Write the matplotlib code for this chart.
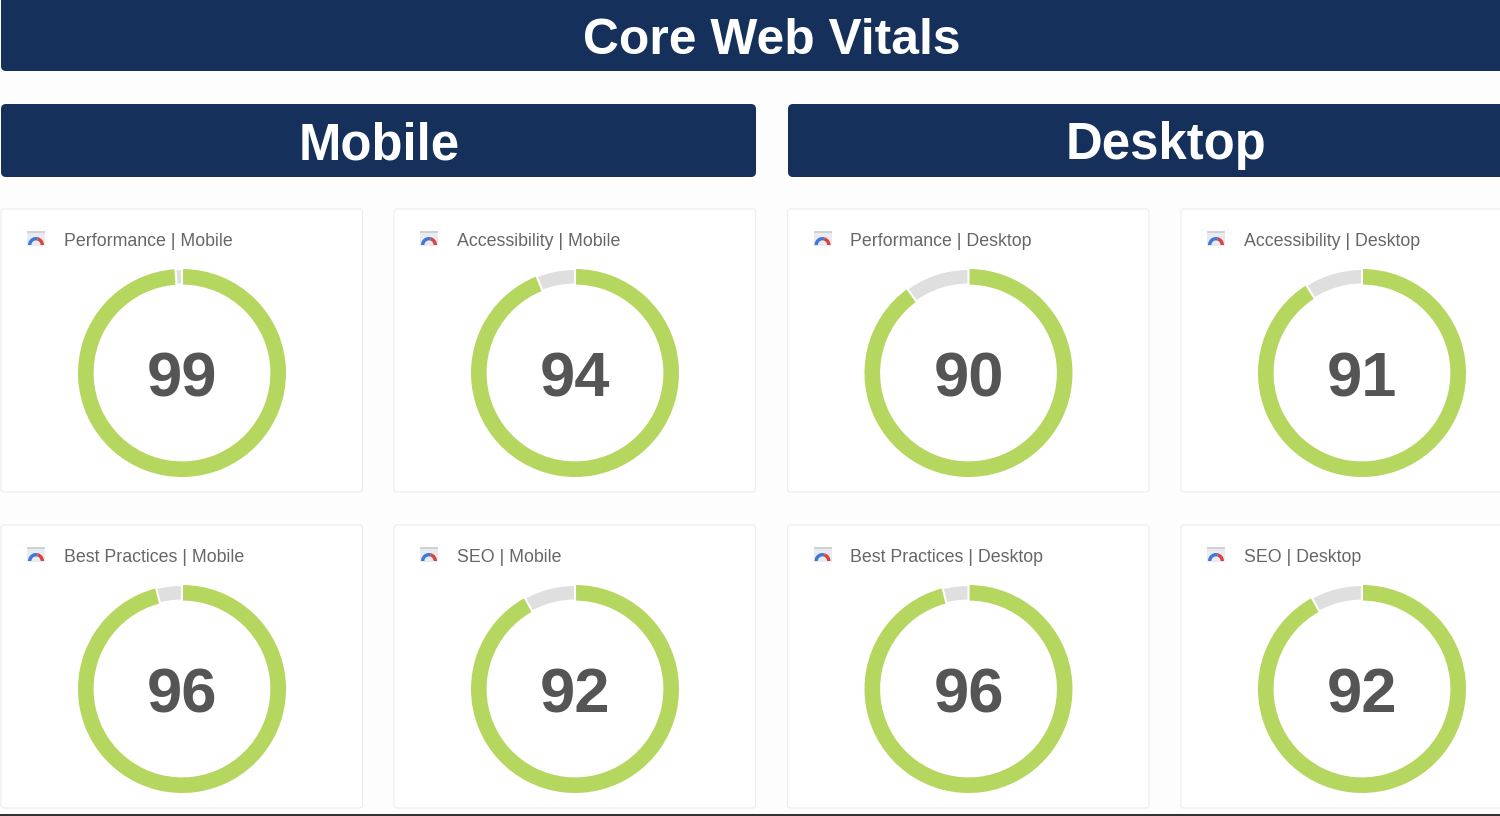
"""Core Web Vitals dashboard: eight Lighthouse score gauges."""

from __future__ import annotations

import matplotlib

matplotlib.use("Agg")
import matplotlib.pyplot as plt
from matplotlib.patches import FancyBboxPatch, Rectangle, Wedge

plt.rcParams["font.family"] = ["Liberation Sans", "DejaVu Sans"]

TITLE = "Core Web Vitals"
SECTIONS = ["Mobile", "Desktop"]
CARD_LABELS = [
    "Performance | Mobile",
    "Accessibility | Mobile",
    "Performance | Desktop",
    "Accessibility | Desktop",
    "Best Practices | Mobile",
    "SEO | Mobile",
    "Best Practices | Desktop",
    "SEO | Desktop",
]
SCORES = [99, 94, 90, 91, 96, 92, 96, 92]

WIDTH, HEIGHT = 1500, 816
NAVY = "#15305a"
GREEN = "#b5d65f"
GRAY = "#dfdfdf"
CARD_LEFT = [1, 394, 787.5, 1181]
CARD_TOP = [209, 525]
CARD_W, CARD_H = 362, 283


def banner(ax, x0, x1, y0, y1):
    ax.add_patch(
        FancyBboxPatch(
            (x0 + 5, y0 + 5),
            x1 - x0 - 10,
            y1 - y0 - 10,
            boxstyle="round,pad=5,rounding_size=5",
            fc=NAVY,
            ec="none",
        )
    )


def icon(ax, x, y):
    ax.add_patch(Rectangle((x, y), 18, 15, fc="#e9ebf1", ec="none"))
    ax.add_patch(Rectangle((x, y), 18, 2, fc="#cfd1d6", ec="none"))
    cx, cy = x + 9, y + 14
    ax.add_patch(Wedge((cx, cy), 8, 180, 285, width=3.4, fc="#3f78d8", ec="none"))
    ax.add_patch(Wedge((cx, cy), 8, 285, 360, width=3.4, fc="#d8453c", ec="none"))


def gauge(fig, cx, cy, score):
    radius = 104
    gauge_ax = fig.add_axes(
        [(cx - radius) / WIDTH, 1 - (cy + radius) / HEIGHT, 2 * radius / WIDTH, 2 * radius / HEIGHT]
    )
    wedges, _ = gauge_ax.pie(
        [score, 100 - score],
        colors=[GREEN, GRAY],
        startangle=90,
        counterclock=False,
        radius=1,
        wedgeprops={"width": 0.15, "edgecolor": "none"},
    )
    wedges[1].set_edgecolor("white")
    wedges[1].set_linewidth(1.5)
    gauge_ax.set_xlim(-1, 1)
    gauge_ax.set_ylim(-1, 1)
    gauge_ax.set_axis_off()
    gauge_ax.patch.set_alpha(0)
    gauge_ax.text(
        0, -0.07, str(score), ha="center", va="center", fontsize=45.5,
        fontweight="bold", color="#555555",
    )


def main() -> None:
    fig = plt.figure(figsize=(WIDTH / 100, HEIGHT / 100), dpi=100, facecolor="#fdfdfd")
    ax = fig.add_axes([0, 0, 1, 1])
    ax.set_xlim(0, WIDTH)
    ax.set_ylim(HEIGHT, 0)
    ax.set_axis_off()

    banner(ax, 1, 1520, -10, 71)
    banner(ax, 1, 756, 104, 177)
    banner(ax, 788, 1520, 104, 177)
    ax.text(772, 41, TITLE, ha="center", va="center", fontsize=35.8, fontweight="bold", color="white")
    ax.text(379, 146, SECTIONS[0], ha="center", va="center", fontsize=36.6, fontweight="bold", color="white")
    ax.text(1166, 146, SECTIONS[1], ha="center", va="center", fontsize=36.6, fontweight="bold", color="white")

    for i, (label, score) in enumerate(zip(CARD_LABELS, SCORES)):
        left = CARD_LEFT[i % 4]
        top = CARD_TOP[i // 4]
        ax.add_patch(
            FancyBboxPatch(
                (left + 3, top + 3),
                CARD_W - 6.5,
                CARD_H - 6,
                boxstyle="round,pad=3,rounding_size=3",
                fc="white",
                ec="#ececec",
                lw=0.8,
            )
        )
        icon(ax, left + 26, top + 22)
        ax.text(left + 63, top + 32, label, ha="left", va="center", fontsize=12.8, color="#666666")
        gauge(fig, left + 181, top + 164, score)

    ax.add_patch(Rectangle((0, 814), WIDTH, 3, fc="#333333", ec="none"))
    fig.savefig("out.png", dpi=100, facecolor=fig.get_facecolor())
    plt.close(fig)


if __name__ == "__main__":
    main()
